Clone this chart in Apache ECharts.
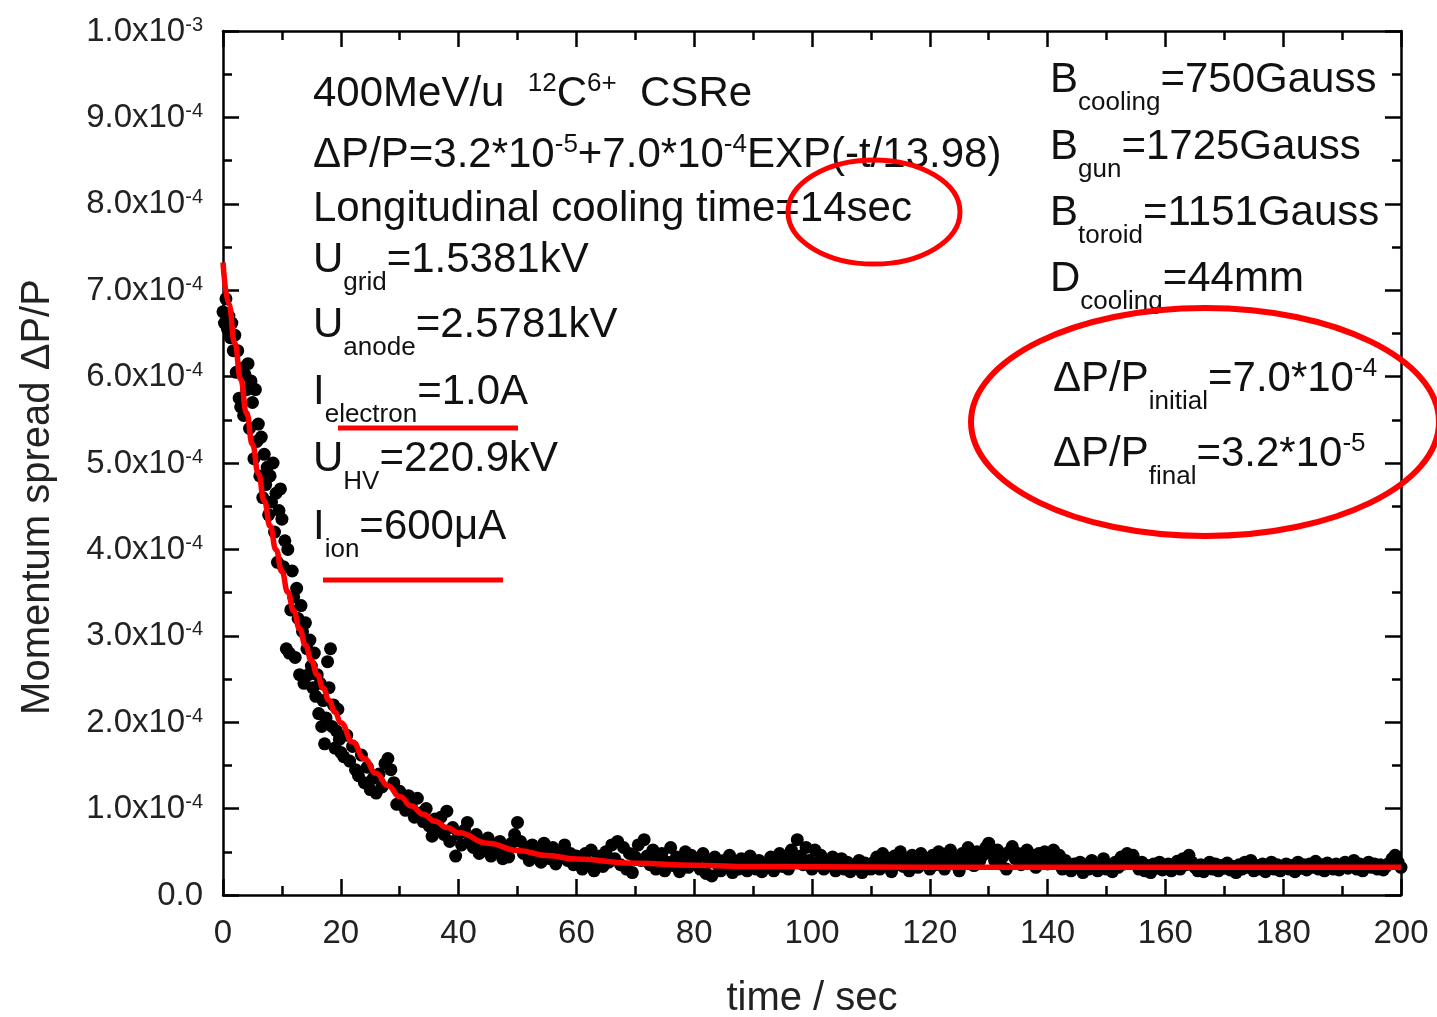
<!DOCTYPE html>
<html>
<head>
<meta charset="utf-8">
<script src="https://cdn.jsdelivr.net/npm/echarts@6/dist/echarts.min.js"></script>
<style>html,body{margin:0;padding:0;background:#fff}#c{width:1437px;height:1017px}</style>
</head>
<body>
<div id="c"></div>
<script>
// ---- data (momentum spread in units of 1e-4) ----
// measured points, t = 0 .. 20 s, every 0.25 s
const earlyStart = 0, earlyStep = 0.25;
const earlyV = [
  6.75,6.62,6.90,6.55,6.70,6.45,6.62,6.30,
  6.48,6.05,6.30,5.75,5.65,6.10,5.55,6.02,
  5.85,6.15,5.40,5.95,5.70,5.05,5.85,5.25,
  5.45,4.85,5.30,4.60,5.10,4.75,4.95,4.40,
  4.85,4.55,5.00,4.20,4.65,3.85,4.45,4.70,
  4.35,3.80,4.10,2.85,4.00,2.80,3.30,3.75,
  3.45,2.75,3.55,3.20,2.55,3.35,3.05,2.45,
  3.15,2.85,2.55,2.95,2.65,2.40,2.80,2.30,
  2.55,2.10,2.45,1.95,2.25,1.75,2.05,2.70,
  2.40,2.85,1.95,2.20,1.70,1.90,2.15,1.80,
  1.65
];
// measured points, t = 20.5 .. 50 s, every 0.5 s
const midStart = 20.5, midStep = 0.5;
const midV = [
  1.60,1.85,1.55,1.72,1.45,1.38,1.62,1.30,1.48,1.22,
  1.35,1.18,1.40,1.25,1.52,1.58,1.45,1.30,1.05,1.20,
  1.10,0.98,1.15,1.02,0.90,1.12,0.95,0.85,1.00,0.80,
  0.68,0.88,0.75,0.90,0.70,0.97,0.62,0.78,0.45,0.70,
  0.58,0.75,0.84,0.65,0.55,0.70,0.48,0.62,0.52,0.66,
  0.45,0.58,0.50,0.62,0.42,0.55,0.44,0.60,0.70,0.84
];
// measured points, t = 50.5 .. 200 s, every 0.5 s
const tailStart = 50.5, tailStep = 0.5;
const tailV = [
  0.62,0.48,0.55,0.40,0.58,0.45,0.50,0.38,0.60,0.47,0.42,0.55,0.36,0.50,0.44,0.58,0.40,0.48,0.35,0.45,
  0.42,0.30,0.48,0.38,0.52,0.28,0.40,0.45,0.33,0.50,0.38,0.58,0.42,0.62,0.35,0.55,0.30,0.48,0.26,0.44,
  0.58,0.40,0.64,0.45,0.35,0.52,0.30,0.42,0.48,0.28,0.38,0.55,0.34,0.44,0.27,0.40,0.50,0.32,0.46,0.36,
  0.42,0.30,0.48,0.25,0.38,0.22,0.44,0.35,0.28,0.40,0.33,0.46,0.26,0.38,0.30,0.42,0.34,0.28,0.45,0.36,
  0.30,0.40,0.27,0.36,0.32,0.44,0.28,0.38,0.48,0.33,0.42,0.30,0.52,0.40,0.64,0.45,0.35,0.55,0.40,0.30,
  0.52,0.38,0.46,0.30,0.40,0.34,0.44,0.28,0.36,0.42,0.30,0.38,0.27,0.35,0.32,0.40,0.26,0.37,0.33,0.30,
  0.38,0.44,0.30,0.48,0.36,0.42,0.27,0.45,0.35,0.50,0.33,0.40,0.28,0.46,0.38,0.32,0.48,0.36,0.42,0.30,
  0.46,0.35,0.50,0.40,0.30,0.45,0.52,0.36,0.42,0.28,0.48,0.38,0.55,0.44,0.34,0.50,0.40,0.46,0.55,0.60,
  0.48,0.40,0.52,0.36,0.45,0.30,0.50,0.56,0.42,0.48,0.35,0.44,0.52,0.38,0.46,0.32,0.48,0.40,0.50,0.36,
  0.45,0.52,0.38,0.46,0.30,0.40,0.34,0.28,0.36,0.32,0.38,0.26,0.35,0.30,0.40,0.33,0.28,0.36,0.42,0.30,
  0.34,0.27,0.38,0.32,0.44,0.36,0.48,0.40,0.46,0.35,0.30,0.38,0.28,0.34,0.26,0.36,0.31,0.38,0.29,0.33,
  0.36,0.28,0.34,0.39,0.30,0.42,0.35,0.46,0.38,0.32,0.28,0.35,0.27,0.33,0.38,0.30,0.36,0.28,0.34,0.31,
  0.37,0.29,0.33,0.26,0.35,0.30,0.38,0.32,0.40,0.28,0.34,0.30,0.36,0.27,0.33,0.38,0.30,0.35,0.28,0.32,
  0.36,0.30,0.34,0.27,0.38,0.31,0.35,0.29,0.36,0.32,0.39,0.30,0.35,0.28,0.37,0.33,0.30,0.36,0.29,0.34,
  0.38,0.31,0.35,0.40,0.30,0.36,0.28,0.34,0.38,0.32,0.36,0.30,0.35,0.29,0.33,0.37,0.42,0.46,0.38,0.32
];
// fitted curve (red), sampled points
const fitT = [0,1,2,3,4,5,6,7,8,9,10,11,12,13,14,15,16,17,18,19,20,22,24,26,28,30,32,34,36,38,40,45,50,55,60,70,80,90,100,120,140,160,180,200];
const fitV = [7.32,6.837,6.387,5.968,5.578,5.215,4.877,4.563,4.270,3.997,3.743,3.507,3.287,3.082,2.892,2.714,2.549,2.395,2.252,2.118,1.994,1.771,1.578,1.410,1.265,1.139,1.030,0.935,0.853,0.782,0.720,0.600,0.516,0.457,0.416,0.367,0.343,0.331,0.326,0.321,0.320,0.320,0.320,0.320];
// tick labels
const yTickMant = ['0.0','1.0','2.0','3.0','4.0','5.0','6.0','7.0','8.0','9.0','1.0'];
const yTickExp  = ['', '-4','-4','-4','-4','-4','-4','-4','-4','-4','-3'];

// ---- build ----
const pts = [];
earlyV.forEach((v,i)=>pts.push([earlyStart+i*earlyStep, v]));
midV.forEach((v,i)=>pts.push([midStart+i*midStep, v]));
tailV.forEach((v,i)=>pts.push([tailStart+i*tailStep, v]));
const fitPts = fitT.map((t,i)=>[t, fitV[i]]);

const F = '"Liberation Sans", Arial, Helvetica, sans-serif';
const TXT = '#111';
const RICH = {
  m: {fontSize: 42, lineHeight: 50, verticalAlign: 'top', fontFamily: F, fill: TXT},
  b: {fontSize: 26, lineHeight: 26, verticalAlign: 'top', padding: [31,0,0,0], fontFamily: F, fill: TXT},
  p: {fontSize: 26, lineHeight: 26, verticalAlign: 'top', padding: [-2,0,0,0], fontFamily: F, fill: TXT}
};
function txt(x, y, s) {
  return {type: 'text', x: x, y: y + 6, z: 10, style: {text: s, rich: RICH, fill: TXT, align: 'left', verticalAlign: 'top', font: '42px ' + F}};
}
const RED = '#ff0000';

const axisLine = {show: true, onZero: false, lineStyle: {color: '#000', width: 2.5}};
const axisTick = {show: true, inside: true, length: 16, lineStyle: {color: '#000', width: 2.5}};
const minorTick = {show: true, splitNumber: 2, length: 9, lineStyle: {color: '#000', width: 2.5}};
const labelFont = {fontFamily: F, fontSize: 33, color: '#222'};

const chart = echarts.init(document.getElementById('c'), null, {renderer: 'canvas'});
chart.setOption({
  animation: false,
  backgroundColor: '#fff',
  grid: {left: 223, right: 36, top: 31, bottom: 122, containLabel: false, outerBoundsMode: 'none'},
  xAxis: [{
    type: 'value', min: 0, max: 200, interval: 20, position: 'bottom',
    axisLine: axisLine, axisTick: axisTick, minorTick: minorTick,
    splitLine: {show: false}, minorSplitLine: {show: false},
    axisLabel: Object.assign({margin: 22}, labelFont),
    name: 'time / sec', nameLocation: 'middle', nameGap: 84,
    nameTextStyle: {fontFamily: F, fontSize: 40, color: '#222'}
  }, {
    type: 'value', min: 0, max: 200, interval: 20, position: 'top',
    axisLine: axisLine, axisTick: axisTick, minorTick: minorTick,
    splitLine: {show: false}, axisLabel: {show: false}
  }],
  yAxis: [{
    type: 'value', min: 0, max: 10, interval: 1, position: 'left',
    axisLine: axisLine, axisTick: axisTick, minorTick: minorTick,
    splitLine: {show: false}, minorSplitLine: {show: false},
    axisLabel: {
      margin: 20,
      padding: [8, 0, 0, 0],
      formatter: (v) => {
        const i = Math.round(v);
        return yTickExp[i] ? '{m|' + yTickMant[i] + 'x10}{s|' + yTickExp[i] + '}' : '{m|' + yTickMant[i] + '}';
      },
      rich: {
        m: {fontFamily: F, fontSize: 33, color: '#222', lineHeight: 40, verticalAlign: 'top'},
        s: {fontFamily: F, fontSize: 20, color: '#222', lineHeight: 20, verticalAlign: 'top'}
      }
    },
    name: 'Momentum spread ΔP/P', nameLocation: 'middle', nameGap: 165, nameRotate: 90,
    nameTextStyle: {fontFamily: F, fontSize: 40, color: '#222', padding: [0, 68, 0, 0]}
  }, {
    type: 'value', min: 0, max: 10, interval: 1, position: 'right',
    axisLine: axisLine, axisTick: axisTick, minorTick: minorTick,
    splitLine: {show: false}, axisLabel: {show: false}
  }],
  series: [{
    type: 'scatter', xAxisIndex: 0, yAxisIndex: 0, data: pts,
    symbol: 'circle', symbolSize: 13, itemStyle: {color: '#000', opacity: 1}, z: 2, silent: true
  }, {
    type: 'line', xAxisIndex: 0, yAxisIndex: 0, data: fitPts,
    showSymbol: false, smooth: true, smoothMonotone: 'x',
    lineStyle: {color: RED, width: 5.5}, z: 3, silent: true
  }],
  graphic: [
    txt(313, 67, '{m|400MeV/u  }{p|12}{m|C}{p|6+}{m|  CSRe}'),
    txt(313, 128, '{m|ΔP/P=3.2*10}{p|-5}{m|+7.0*10}{p|-4}{m|EXP(-t/13.98)}'),
    txt(313, 182, '{m|Longitudinal cooling time=14sec}'),
    txt(313, 233, '{m|U}{b|grid}{m|=1.5381kV}'),
    txt(313, 298, '{m|U}{b|anode}{m|=2.5781kV}'),
    txt(313, 365, '{m|I}{b|electron}{m|=1.0A}'),
    txt(313, 432, '{m|U}{b|HV}{m|=220.9kV}'),
    txt(313, 500, '{m|I}{b|ion}{m|=600μA}'),
    txt(1050, 53, '{m|B}{b|cooling}{m|=750Gauss}'),
    txt(1050, 120, '{m|B}{b|gun}{m|=1725Gauss}'),
    txt(1050, 186, '{m|B}{b|toroid}{m|=1151Gauss}'),
    txt(1050, 252, '{m|D}{b|cooling}{m|=44mm}'),
    txt(1053, 352, '{m|ΔP/P}{b|initial}{m|=7.0*10}{p|-4}'),
    txt(1053, 427, '{m|ΔP/P}{b|final}{m|=3.2*10}{p|-5}'),
    {type: 'ellipse', z: 20, shape: {cx: 874, cy: 212, rx: 86, ry: 52}, style: {fill: 'none', stroke: RED, lineWidth: 5}},
    {type: 'ellipse', z: 20, shape: {cx: 1205, cy: 422, rx: 234, ry: 114}, style: {fill: 'none', stroke: RED, lineWidth: 6}},
    {type: 'line', z: 20, shape: {x1: 338, y1: 428, x2: 518, y2: 428}, style: {stroke: RED, lineWidth: 5}},
    {type: 'line', z: 20, shape: {x1: 323, y1: 580, x2: 503, y2: 580}, style: {stroke: RED, lineWidth: 5}}
  ]
});
</script>
</body>
</html>
